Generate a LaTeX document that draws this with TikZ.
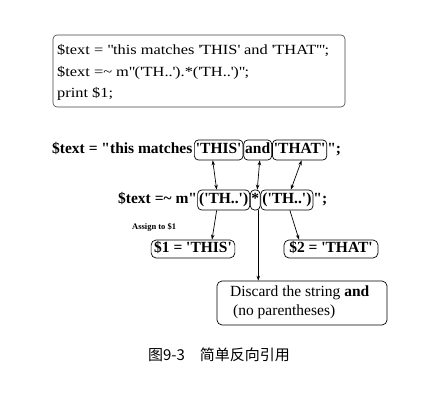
\documentclass[tikz,border=0pt]{standalone}
\usepackage{fontspec}
\setmainfont{Liberation Serif}
\newfontfamily\codefont{Liberation Serif}[FakeStretch=1.17]
\newfontfamily\cjk{Noto Sans CJK SC}
\usetikzlibrary{arrows.meta}
\newcommand\dq{\textquotedbl}
\newcommand\sq{\textquotesingle}
\begin{document}
\begin{tikzpicture}[x=1pt,y=-1pt,
  txt/.style={inner sep=0pt, anchor=base west, font=\fontsize{15.5}{17}\selectfont\bfseries},
  tok/.style={draw, rounded corners=4pt, anchor=base west, inner xsep=1.5pt, inner ysep=3pt, text height=11pt, text depth=3pt, font=\fontsize{15.5}{17}\selectfont\bfseries, line width=0.7pt},
  code/.style={inner sep=0pt, font=\codefont\fontsize{14}{16}\selectfont, anchor=base west},
  res/.style={draw, rounded corners=5pt, anchor=base, inner xsep=3pt, inner ysep=2pt, text height=11pt, text depth=3pt, font=\fontsize{15.5}{17}\selectfont\bfseries, line width=0.7pt},
  dbl/.style={{Stealth[length=5pt,width=3.5pt]}-{Stealth[length=5pt,width=3.5pt]}, line width=0.7pt},
  sgl/.style={-{Stealth[length=5pt,width=3.5pt]}, line width=0.7pt},
  smalltxt/.style={inner sep=0pt, font=\fontsize{8.5}{10}\selectfont\bfseries}]
\useasboundingbox (0,0) rectangle (432,403);
% code box
\draw[rounded corners=4pt, line width=0.6pt, draw=black!75] (53,35) rectangle (345,107);
\node[code] (c1) at (57,55) {\$text = \dq this matches \sq THIS\sq\ and \sq THAT\sq\dq;};
\node[code] (c2) at (57,77) {\$text =\textasciitilde\ m\dq(\sq TH..\sq).*(\sq TH..\sq)\dq;};
\node[code] (c3) at (57,98) {print \$1;};
% line 1
\node[txt] (a0) at (52,154) {\$text = \dq this matches};
\node[tok] (this) at ([xshift=1.5pt]a0.base east) {\sq THIS\sq};
\node[tok] (and) at (this.base east) {and};
\node[tok] (that) at (and.base east) {\sq THAT\sq};
\node[txt] (a4) at (that.base east) {\dq;};
% line 2
\node[txt] (b0) at (118,204) {\$text =\textasciitilde\ m\dq};
\node[tok] (g1) at (b0.base east) {(\sq TH..\sq)};
\node[tok, inner xsep=1pt] (star) at (g1.base east) {*};
\node[tok] (g2) at (star.base east) {(\sq TH..\sq)};
\node[txt] (b4) at (g2.base east) {\dq;};
% arrows between lines
\draw[dbl] ([xshift=-6pt]this.south) -- ([xshift=-7pt]g1.north);
\draw[dbl] ([xshift=2pt]and.south) -- ([xshift=2pt]star.north);
\draw[dbl] ([xshift=2pt]that.south) -- ([xshift=4pt]g2.north);
% results
\node[smalltxt, anchor=base west] (asg) at (132,230) {Assign to \$1};
\node[res, minimum width=80pt] (r1) at (193,253) {\$1 = \sq THIS\sq};
\node[res, minimum width=94pt] (r2) at (331,253) {\$2 = \sq THAT\sq};
\node[draw, rounded corners=5pt, line width=0.7pt, minimum width=170pt, minimum height=44pt] (disc) at (302,303) {};
\node[inner sep=0pt, anchor=base west, font=\fontsize{15.5}{17}\selectfont] (d1) at (230,297) {Discard the string \textbf{and}};
\node[inner sep=0pt, anchor=base west, font=\fontsize{15.5}{17}\selectfont] (d2) at (233,316) {(no parentheses)};
\draw[sgl] ([xshift=-7pt]g1.south) -- ([xshift=19pt]r1.north);
\draw[sgl] ([xshift=3pt]star.south) -- ([xshift=3pt]star.south |- disc.north);
\draw[sgl] ([xshift=3pt]g2.south) -- ([xshift=-32pt]r2.north);
% caption
\node[font=\cjk\fontsize{15}{17}\selectfont, inner sep=0pt] (cap) at (219,355) {图9-3\quad 简单反向引用};
\end{tikzpicture}
\end{document}
